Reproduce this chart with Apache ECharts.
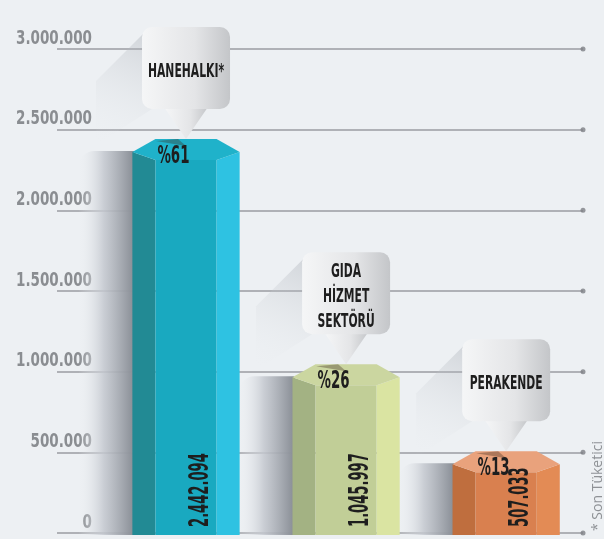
<!DOCTYPE html>
<html>
<head>
<meta charset="UTF-8">
<script src="https://cdn.jsdelivr.net/npm/echarts@6/dist/echarts.min.js"></script>
<style>
  html, body { margin: 0; background: #edf0f3; }
  #main { width: 604px; height: 539px; }
</style>
</head>
<body>
<div id="main"></div>
<script>
// veriler
var categories = ['HANEHALKI*', 'GIDA\nHİZMET\nSEKTÖRÜ', 'PERAKENDE'];
var values = [2442094, 1045997, 507033];
var shares = ['%61', '%26', '%13'];
var ticks = [0, 500000, 1000000, 1500000, 2000000, 2500000, 3000000];
var note = '* Son Tüketici';

// renkler: sol yüz, orta yüz, sağ yüz, üst
var palettes = [
  ['#228a94', '#19a9c0', '#2ec2e2', '#1fb2ca'],
  ['#a3b283', '#c1ce97', '#dae4a2', '#cbd6a0'],
  ['#bf6e3e', '#d9804f', '#e38b55', '#e9a27c']
];

// dar yazı: DejaVu Sans condensed, scaleX ile biraz daha sıkıştırılıyor
var FONT = '"DejaVu Sans", sans-serif';
var BOLD = 'bold condensed';
var X_MIN = -0.806, X_MAX = 2.48;

function dots(n) {
  return String(n).replace(/\B(?=(\d{3})+(?!\d))/g, '.');
}

function geom(api) {
  var i = api.value(0);
  var top = api.coord([i, api.value(1)]);
  var base = api.coord([i, 0]);
  var w = api.size([1, 0])[0] * 0.67;
  return {
    i: i, cx: top[0], L: top[0] - w / 2, R: top[0] + w / 2, s: w * 0.215,
    y0: top[1], ys: top[1] + 13, yf: top[1] + 21, yb: base[1] + 2, base: base[1]
  };
}

function renderTick(params, api) {
  var p = api.coord([api.value(0), api.value(1)]);
  return {
    type: 'text', x: p[0] + 35, y: p[1] - 0.5, scaleX: 0.75,
    style: { text: dots(api.value(1)), fill: '#8a8d91', fontSize: 20, fontWeight: BOLD, fontFamily: FONT, align: 'right', verticalAlign: 'bottom' }
  };
}

function renderShadow(params, api) {
  var g = geom(api);
  var bb = g.y0 - 30, bt = bb - 82, bl = g.cx - 44;
  return {
    type: 'group',
    children: [
      {
        type: 'polygon',
        shape: { points: [[bl + 2, bt + 6], [bl - 46, bt + 54], [bl - 46, g.y0 + 6], [bl + 10, bb]] },
        style: {
          fill: new echarts.graphic.LinearGradient(1, 0, 0, 1, [
            { offset: 0, color: 'rgba(165,170,178,0.4)' },
            { offset: 1, color: 'rgba(237,240,243,0)' }
          ])
        }
      },
      {
        type: 'rect',
        shape: { x: g.L - 54, y: g.y0 + 12, width: 56, height: g.yb - g.y0 - 12, r: [16, 0, 0, 0] },
        style: {
          fill: new echarts.graphic.LinearGradient(0, 0, 1, 0, [
            { offset: 0, color: 'rgba(237,240,243,0)' },
            { offset: 0.45, color: 'rgba(196,200,207,0.85)' },
            { offset: 1, color: '#878c94' }
          ])
        }
      }
    ]
  };
}

function renderBar(params, api) {
  var g = geom(api);
  var c = palettes[g.i];
  return {
    type: 'group',
    children: [
      { type: 'polygon', shape: { points: [[g.L, g.ys], [g.L + g.s, g.yf], [g.L + g.s, g.yb], [g.L, g.yb]] }, style: { fill: c[0] } },
      { type: 'rect', shape: { x: g.L + g.s, y: g.yf, width: g.R - g.L - 2 * g.s, height: g.yb - g.yf }, style: { fill: c[1] } },
      { type: 'polygon', shape: { points: [[g.R - g.s, g.yf], [g.R, g.ys], [g.R, g.yb], [g.R - g.s, g.yb]] }, style: { fill: c[2] } },
      { type: 'polygon', shape: { points: [[g.L, g.ys], [g.L + g.s, g.y0], [g.R - g.s, g.y0], [g.R, g.ys], [g.R - g.s, g.yf], [g.L + g.s, g.yf]] }, style: { fill: c[3] } },
      // işaretçinin üst yüzeye düşen gölgesi
      { type: 'polygon', shape: { points: [[g.cx - 30, g.y0 + 2], [g.cx - 8, g.y0], [g.cx, g.y0 + 7]] }, style: { fill: 'rgba(60,40,30,0.35)' } },
      {
        type: 'text', x: g.L + g.s + 2, y: g.y0 + 6, scaleX: 0.62,
        style: { text: shares[g.i], fill: '#1e1e1e', fontSize: 24, fontWeight: BOLD, fontFamily: FONT, align: 'left', verticalAlign: 'top' }
      },
      {
        type: 'text', x: g.cx + 15, y: g.base - 6, rotation: Math.PI / 2, scaleX: 0.54,
        style: { text: dots(api.value(1)), fill: '#1e1e1e', fontSize: 27, fontWeight: BOLD, fontFamily: FONT, align: 'left', verticalAlign: 'middle' }
      }
    ]
  };
}

function renderBubble(params, api) {
  var g = geom(api);
  var bb = g.y0 - 30, bt = bb - 82, bl = g.cx - 44;
  var grad = new echarts.graphic.LinearGradient(0, 0, 1, 0, [
    { offset: 0, color: '#f5f6f7' },
    { offset: 0.6, color: '#e4e5e7' },
    { offset: 1, color: '#c4c6c9' }
  ]);
  return {
    type: 'group',
    children: [
      { type: 'polygon', shape: { points: [[g.cx - 22, bb - 2], [g.cx + 22, bb - 2], [g.cx, g.y0]] }, style: { fill: grad } },
      { type: 'rect', shape: { x: bl, y: bt, width: 88, height: 82, r: 10 }, style: { fill: grad } },
      {
        type: 'text', x: g.cx, y: bt + 45, scaleX: 0.6,
        style: { text: categories[g.i], fill: '#1e1e1e', fontSize: 20, fontWeight: BOLD, fontFamily: FONT, lineHeight: 25, align: 'center', verticalAlign: 'middle' }
      }
    ]
  };
}

var barData = values.map(function (v, i) { return [i, v]; });

var chart = echarts.init(document.getElementById('main'));
chart.setOption({
  backgroundColor: '#edf0f3',
  animation: false,
  grid: { left: 57, right: 21, top: 49, bottom: 6, outerBoundsMode: 'none', containLabel: false },
  xAxis: { type: 'value', min: X_MIN, max: X_MAX, show: false },
  yAxis: {
    type: 'value', min: 0, max: 3000000, interval: 500000,
    axisLine: { show: false },
    axisTick: { show: false },
    axisLabel: { show: false },
    splitLine: { lineStyle: { color: '#9a9da2', width: 1.5 } }
  },
  graphic: [{
    type: 'text', x: 598, y: 531, rotation: Math.PI / 2,
    style: { text: note, fill: '#8f9296', fontSize: 14, fontFamily: '"Open Sans", sans-serif', align: 'left', verticalAlign: 'middle' }
  }],
  series: [
    { type: 'custom', renderItem: renderTick, data: ticks.map(function (t) { return [X_MIN, t]; }), silent: true, clip: false },
    { type: 'custom', renderItem: renderShadow, data: barData, silent: true, clip: false },
    { type: 'custom', renderItem: renderBar, data: barData, silent: true, clip: false },
    { type: 'custom', renderItem: renderBubble, data: barData, silent: true, clip: false },
    {
      type: 'scatter', data: ticks.map(function (t) { return [X_MAX, t]; }),
      symbolSize: 5, itemStyle: { color: '#7d8085' }, clip: false, silent: true
    }
  ]
});
</script>
</body>
</html>
